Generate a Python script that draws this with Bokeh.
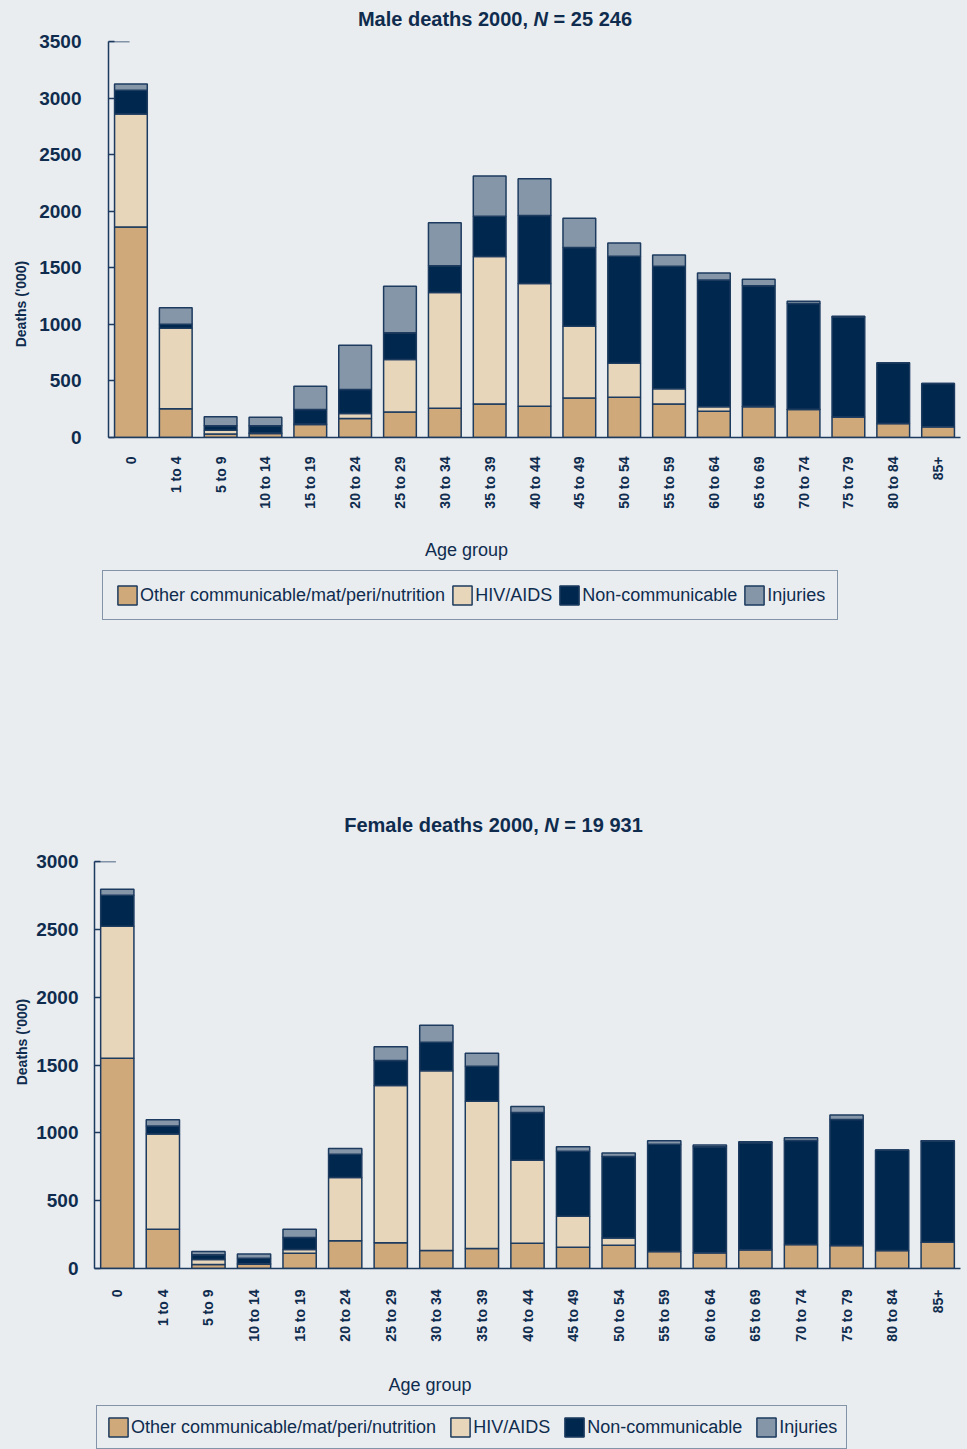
import math
from bokeh.plotting import figure
from bokeh.models import (ColumnDataSource, Legend, LegendItem, FixedTicker, Range1d,
                          Label, Arrow, Div)
from bokeh.layouts import column, row
from bokeh.embed import file_html
from bokeh.resources import INLINE

# ---------------- data ----------------
age_groups = ["0", "1 to 4", "5 to 9", "10 to 14", "15 to 19", "20 to 24", "25 to 29",
              "30 to 34", "35 to 39", "40 to 44", "45 to 49", "50 to 54", "55 to 59",
              "60 to 64", "65 to 69", "70 to 74", "75 to 79", "80 to 84", "85+"]

causes = ["Other communicable/mat/peri/nutrition", "HIV/AIDS", "Non-communicable", "Injuries"]

male_other = [1860, 255, 30, 35, 115, 168, 226, 259, 295, 277, 350, 356, 297, 232, 271, 247, 182, 124, 94]
male_hiv = [1000, 710, 35, 5, 5, 44, 463, 1023, 1305, 1084, 634, 301, 133, 39, 5, 3, 0, 0, 0]
male_noncomm = [210, 35, 38, 63, 127, 212, 236, 235, 356, 601, 695, 945, 1084, 1122, 1066, 934, 884, 536, 383]
male_injuries = [55, 147, 80, 75, 206, 392, 412, 380, 356, 324, 259, 118, 100, 62, 56, 21, 5, 0, 0]

female_other = [1549, 290, 30, 32, 113, 204, 190, 133, 148, 187, 157, 172, 125, 116, 138, 177, 170, 133, 194]
female_hiv = [974, 701, 36, 3, 27, 467, 1158, 1325, 1084, 610, 229, 52, 0, 0, 0, 0, 0, 0, 0]
female_noncomm = [229, 59, 35, 41, 89, 172, 186, 209, 258, 352, 479, 602, 790, 782, 789, 767, 929, 740, 745]
female_injuries = [44, 47, 24, 30, 61, 42, 101, 126, 96, 46, 33, 25, 27, 12, 8, 20, 32, 0, 3]

male_yticks = [0, 500, 1000, 1500, 2000, 2500, 3000, 3500]
female_yticks = [0, 500, 1000, 1500, 2000, 2500, 3000]

# ---------------- style ----------------
BG = "#E9EDF0"
NAVY_TXT = "#0F2C4E"
LINE = "#1D3B5F"
COLORS = ["#CFA97A", "#E8D6BB", "#00274D", "#8496A8"]
SANS = "Liberation Sans"
W = 967
YDIV_W = 30


def make_chart(other, hiv, nc, inj, yticks, top, frame_h, left, bottom, x_std, y_std):
    keys = ["other", "hiv", "nc", "inj"]
    src = ColumnDataSource(dict(x=list(range(len(age_groups))), other=other, hiv=hiv, nc=nc, inj=inj))
    p = figure(frame_width=W - left - 7, frame_height=frame_h,
               output_backend="svg", toolbar_location=None,
               x_range=Range1d(-0.5, len(age_groups) - 0.5),
               y_range=Range1d(yticks[0], yticks[-1]),
               min_border_left=left - YDIV_W, min_border_right=7, min_border_top=top,
               min_border_bottom=bottom)
    p.background_fill_color = BG
    p.border_fill_color = BG
    p.outline_line_color = None
    p.xgrid.visible = False
    p.ygrid.visible = False

    p.vbar_stack(keys, x="x", width=0.73, source=src, color=COLORS,
                 line_color=LINE, line_width=1.5)

    xa = p.xaxis[0]
    xa.ticker = FixedTicker(ticks=list(range(len(age_groups))))
    xa.major_label_overrides = {i: a for i, a in enumerate(age_groups)}
    xa.major_label_orientation = math.pi / 2
    xa.major_tick_in = 0
    xa.major_tick_out = 0
    xa.minor_tick_line_color = None
    xa.axis_line_color = LINE
    xa.axis_line_width = 1.5
    xa.major_label_standoff = x_std
    xa.major_label_text_font = SANS
    xa.major_label_text_font_style = "bold"
    xa.major_label_text_font_size = "14px"
    xa.major_label_text_color = NAVY_TXT

    ya = p.yaxis[0]
    ya.ticker = FixedTicker(ticks=yticks)
    ya.major_tick_in = 6
    ya.major_tick_out = 0
    ya.major_tick_line_color = LINE
    ya.major_tick_line_width = 1.5
    ya.minor_tick_line_color = None
    ya.axis_line_color = LINE
    ya.axis_line_width = 1.5
    ya.major_label_standoff = y_std
    ya.major_label_text_font = SANS
    ya.major_label_text_font_style = "bold"
    ya.major_label_text_font_size = "19px"
    ya.major_label_text_color = NAVY_TXT

    # cap line at the top of the y axis
    p.add_layout(Arrow(end=None, x_start=-0.5, y_start=yticks[-1], x_end=-0.03, y_end=yticks[-1],
                       line_color=LINE, line_width=1.5))
    return p


def legend_fig(height, leg_x, leg_bottom, lab_x, lab_y, pad, spacing):
    """Separate strip holding the x-axis title and the legend (coordinates = pixels)."""
    p = figure(width=W, height=height, output_backend="svg", toolbar_location=None,
               x_range=Range1d(0, W), y_range=Range1d(0, height),
               min_border=0, min_border_left=0, min_border_right=0,
               min_border_top=0, min_border_bottom=0)
    p.axis.visible = False
    p.grid.visible = False
    p.outline_line_color = None
    p.background_fill_color = BG
    p.border_fill_color = BG
    # legend-only renderers (a single NaN row: nothing is drawn in the strip)
    rs = [p.vbar(x=[float("nan")], top=[float("nan")], width=1, fill_color=c,
                 line_color=LINE, line_width=1.5)
          for c in COLORS]
    legend = Legend(items=[LegendItem(label=c, renderers=[r], index=0) for c, r in zip(causes, rs)],
                    orientation="horizontal", location=(leg_x, leg_bottom), margin=0,
                    padding=pad, spacing=spacing, label_standoff=1, glyph_width=24, glyph_height=24,
                    label_text_font=SANS, label_text_font_size="18px",
                    label_text_color=NAVY_TXT, border_line_color=LINE,
                    border_line_width=1.5, background_fill_alpha=0)
    p.add_layout(legend, "center")
    p.add_layout(Label(x=lab_x, y=lab_y, text="Age group", text_align="center",
                       text_baseline="middle", text_font=SANS, text_font_size="18px",
                       text_color=NAVY_TXT))
    return p


def title_div(html, pad, pad_top, h):
    return Div(text=('<div style="width:%dpx;text-align:center;font-family:\'Liberation Sans\',Arial,sans-serif;'
                     'font-weight:bold;font-size:20px;line-height:22px;color:%s;padding-left:%dpx;'
                     'padding-top:%dpx;box-sizing:border-box;white-space:nowrap">%s</div>'
                     % (W, NAVY_TXT, pad, pad_top, html)),
               width=W, height=h, margin=(0, 0, 0, 0))


def ylabel_div(h, cx, cy):
    return Div(text=('<div style="position:relative;width:%dpx;height:%dpx">'
                     '<div style="position:absolute;left:%dpx;top:%dpx;transform:translate(-50%%,-50%%) rotate(-90deg);'
                     'white-space:nowrap;font-family:\'Liberation Sans\',Arial,sans-serif;font-weight:bold;'
                     'font-size:14px;line-height:16px;color:%s">Deaths (\'000)</div></div>'
                     % (YDIV_W, h, cx, cy, NAVY_TXT)),
               width=YDIV_W, height=h, margin=(0, 0, 0, 0))


# male block: figure from y=30 ; frame 41..437
male = make_chart(male_other, male_hiv, male_noncomm, male_injuries, male_yticks,
                  top=11, frame_h=396, left=108, bottom=80, x_std=19, y_std=27)
male_h = 11 + 396 + 80
male_leg = legend_fig(814 - 30 - male_h, leg_x=102, leg_bottom=(814 - 620),
                      lab_x=466, lab_y=(814 - 549.5), pad=12, spacing=5)

# female block: figure from y=836 ; frame 861..1268
female = make_chart(female_other, female_hiv, female_noncomm, female_injuries, female_yticks,
                    top=25, frame_h=407, left=94, bottom=80, x_std=21, y_std=16)
female_h = 25 + 407 + 80
female_leg = legend_fig(1449 - 836 - female_h, leg_x=96, leg_bottom=(1449 - 1449),
                        lab_x=429.5, lab_y=(1449 - 1384), pad=9, spacing=12)

layout = column(
    title_div("Male deaths 2000, <i>N</i> = 25 246", 23, 8, 30),
    row(ylabel_div(male_h, 21, 304.5 - 30), male, spacing=0),
    male_leg,
    title_div("Female deaths 2000, <i>N</i> = 19 931", 20, 0, 22),
    row(ylabel_div(female_h, 22, 1042 - 836), female, spacing=0),
    female_leg,
    spacing=0,
)

html = file_html(layout, INLINE, title="Deaths 2000")
html = html.replace("</head>", "<style>html, body { background: %s; }</style></head>" % BG, 1)
open("out.html", "w").write(html)
